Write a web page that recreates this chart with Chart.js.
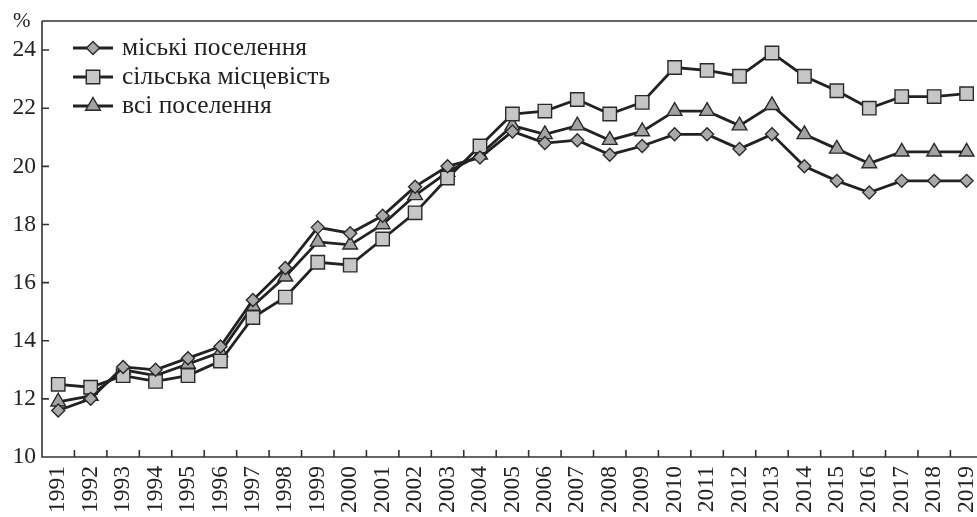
<!DOCTYPE html>
<html>
<head>
<meta charset="utf-8">
<script src="https://cdn.jsdelivr.net/npm/chart.js@4/dist/chart.umd.min.js"></script>
<style>
    html, body { margin: 0; padding: 0; background: #fff; overflow: hidden; }
    #wrap { position: relative; width: 977px; height: 517px; overflow: hidden; }
    #chart { position: absolute; left: 0; top: 0; display: block; }
</style>
</head>
<body>
<div id="wrap">
    <canvas id="chart" width="1004" height="517"></canvas>
</div>
<script>
const years = ["1991","1992","1993","1994","1995","1996","1997","1998","1999","2000",
    "2001","2002","2003","2004","2005","2006","2007","2008","2009","2010",
    "2011","2012","2013","2014","2015","2016","2017","2018","2019"];

const urban = [11.6, 12.0, 13.1, 13.0, 13.4, 13.8, 15.4, 16.5, 17.9, 17.7,
    18.3, 19.3, 20.0, 20.3, 21.2, 20.8, 20.9, 20.4, 20.7, 21.1,
    21.1, 20.6, 21.1, 20.0, 19.5, 19.1, 19.5, 19.5, 19.5];

const rural = [12.5, 12.4, 12.8, 12.6, 12.8, 13.3, 14.8, 15.5, 16.7, 16.6,
    17.5, 18.4, 19.6, 20.7, 21.8, 21.9, 22.3, 21.8, 22.2, 23.4,
    23.3, 23.1, 23.9, 23.1, 22.6, 22.0, 22.4, 22.4, 22.5];

const allSettlements = [11.9, 12.1, 13.0, 12.8, 13.2, 13.6, 15.2, 16.2, 17.4, 17.3,
    18.0, 19.0, 19.8, 20.4, 21.4, 21.1, 21.4, 20.9, 21.2, 21.9,
    21.9, 21.4, 22.1, 21.1, 20.6, 20.1, 20.5, 20.5, 20.5];

const seriesNames = ["міські поселення", "сільська місцевість", "всі поселення"];
const yTicks = [10, 12, 14, 16, 18, 20, 22, 24];

const FONT = "'Liberation Serif'";
const INK = "#222";

function series(label, data, style, radius, fill) {
    return {
        label: label,
        data: data,
        borderColor: INK,
        borderWidth: 2.8,
        tension: 0,
        pointStyle: style,
        pointRadius: radius,
        pointHoverRadius: radius,
        pointBackgroundColor: fill,
        pointBorderColor: "#2a2a2a",
        pointBorderWidth: 1.4
    };
}

// frame, inner ticks, legend and "%" label
const decor = {
    id: "decor",
    afterDraw(chart) {
        const ctx = chart.ctx;
        const a = chart.chartArea;
        const x = chart.scales.x;
        const y = chart.scales.y;

        ctx.save();
        ctx.strokeStyle = "#333";
        ctx.lineWidth = 1.6;
        ctx.beginPath();
        ctx.moveTo(a.left, a.top);
        ctx.lineTo(a.right, a.top);
        ctx.moveTo(a.left, a.top);
        ctx.lineTo(a.left, a.bottom);
        ctx.lineTo(a.right, a.bottom);

        yTicks.forEach(v => {
            const py = y.getPixelForValue(v);
            ctx.moveTo(a.left, py);
            ctx.lineTo(a.left + 7, py);
        });

        const step = x.getPixelForValue(1) - x.getPixelForValue(0);
        for (let i = 1; i <= years.length; i++) {
            const px = x.getPixelForValue(i - 1) + step / 2;
            ctx.moveTo(px, a.bottom);
            ctx.lineTo(px, a.bottom - 7);
        }
        ctx.stroke();

        // "%" unit
        ctx.fillStyle = "#222";
        ctx.font = "21px " + FONT;
        ctx.textBaseline = "middle";
        ctx.textAlign = "left";
        ctx.fillText("%", 13, 21);

        // legend
        const rows = [48, 77, 106];
        chart.data.datasets.forEach((ds, i) => {
            const ry = rows[i];
            ctx.strokeStyle = INK;
            ctx.lineWidth = 2.8;
            ctx.beginPath();
            ctx.moveTo(73, ry);
            ctx.lineTo(113, ry);
            ctx.stroke();

            ctx.fillStyle = ds.pointBackgroundColor;
            ctx.strokeStyle = ds.pointBorderColor;
            ctx.lineWidth = ds.pointBorderWidth;
            Chart.helpers.drawPoint(ctx, {
                pointStyle: ds.pointStyle,
                radius: ds.pointRadius,
                rotation: 0,
                borderWidth: ds.pointBorderWidth
            }, 93, ry);

            ctx.fillStyle = "#222";
            ctx.font = "25.5px " + FONT;
            ctx.textBaseline = "middle";
            ctx.fillText(ds.label, 122, ry);
        });
        ctx.restore();
    }
};

new Chart(document.getElementById("chart"), {
    type: "line",
    data: {
        labels: years,
        datasets: [
            series(seriesNames[0], urban, "rectRot", 6.5, "#a9a9a9"),
            series(seriesNames[1], rural, "rect", 9.5, "#c6c6c6"),
            series(seriesNames[2], allSettlements, "triangle", 8.5, "#a2a2a2")
        ]
    },
    options: {
        responsive: false,
        devicePixelRatio: 1,
        animation: false,
        layout: { padding: { top: 21, left: 0, right: 0, bottom: 0 } },
        plugins: {
            legend: { display: false },
            tooltip: { enabled: false }
        },
        scales: {
            x: {
                type: "category",
                offset: true,
                grid: { display: false, drawTicks: false },
                border: { display: false },
                ticks: {
                    color: "#222",
                    font: { family: FONT, size: 23.5 },
                    minRotation: 90,
                    maxRotation: 90,
                    padding: 9,
                    autoSkip: false
                },
                afterFit(scale) { scale.height = 60; }
            },
            y: {
                min: 10,
                max: 25,
                grid: { display: false, drawTicks: false },
                border: { display: false },
                ticks: {
                    color: "#222",
                    font: { family: FONT, size: 23.5 },
                    padding: 6
                },
                afterBuildTicks(scale) {
                    scale.ticks = yTicks.map(v => ({ value: v }));
                },
                afterFit(scale) { scale.width = 42; }
            }
        }
    },
    plugins: [decor]
});
</script>
</body>
</html>
